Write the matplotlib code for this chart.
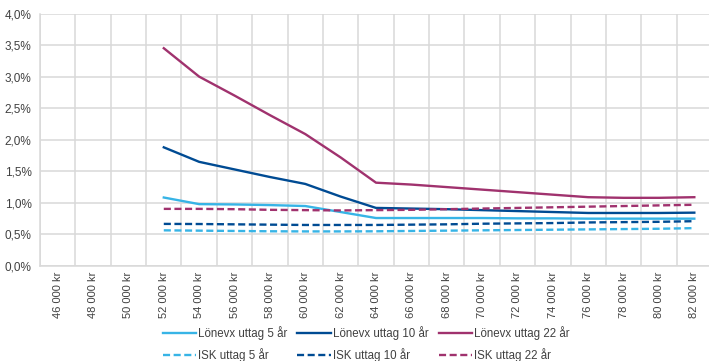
import numpy as np
import matplotlib
matplotlib.use("Agg")
import matplotlib.pyplot as plt
from matplotlib.ticker import FuncFormatter

nan = np.nan

# Monthly salary categories
salaries = list(range(46000, 84000, 2000))
salary_labels = [f"{s // 1000} 000 kr" for s in salaries]

# Fee level in percent per salary level
lonevx_5 = [nan, nan, nan, 1.085, 0.98, 0.975, 0.965, 0.95, 0.855, 0.76, 0.76, 0.76,
            0.76, 0.755, 0.755, 0.75, 0.75, 0.75, 0.75]
lonevx_10 = [nan, nan, nan, 1.88, 1.65, 1.53, 1.41, 1.30, 1.10, 0.92, 0.91, 0.90,
             0.885, 0.87, 0.855, 0.84, 0.84, 0.84, 0.845]
lonevx_22 = [nan, nan, nan, 3.45, 3.00, 2.70, 2.39, 2.09, 1.72, 1.32, 1.29, 1.25,
             1.21, 1.17, 1.13, 1.09, 1.08, 1.08, 1.09]
isk_5 = [nan, nan, nan, 0.565, 0.56, 0.555, 0.55, 0.548, 0.548, 0.55, 0.555, 0.56,
         0.565, 0.57, 0.575, 0.58, 0.585, 0.59, 0.60]
isk_10 = [nan, nan, nan, 0.667, 0.665, 0.66, 0.655, 0.65, 0.65, 0.65, 0.655, 0.66,
          0.67, 0.675, 0.68, 0.69, 0.695, 0.70, 0.71]
isk_22 = [nan, nan, nan, 0.905, 0.905, 0.90, 0.89, 0.885, 0.88, 0.885, 0.89, 0.90,
          0.91, 0.92, 0.93, 0.94, 0.95, 0.96, 0.97]

light = "#37b4e6"
dark = "#004b93"
purple = "#a0326e"
grid_col = "#d9d9d9"
text_col = "#404040"

plt.rcParams["font.family"] = ["Liberation Sans", "DejaVu Sans"]
plt.rcParams["font.size"] = 8

fig = plt.figure(figsize=(7.09, 3.61), dpi=100)
W, H = 709, 361
left, right, top, bottom = 40, 712, 13.5, 266
ax = fig.add_axes([left / W, 1 - bottom / H, (right - left) / W, (bottom - top) / H])

x = np.arange(len(salaries))
lw = 1.7
dash = (0, (3, 1.5))
series = [
    (lonevx_5, light, "-", "Lönevx uttag 5 år"),
    (isk_5, light, dash, "ISK uttag 5 år"),
    (lonevx_10, dark, "-", "Lönevx uttag 10 år"),
    (isk_10, dark, dash, "ISK uttag 10 år"),
    (lonevx_22, purple, "-", "Lönevx uttag 22 år"),
    (isk_22, purple, dash, "ISK uttag 22 år"),
]
for vals, col, ls, lab in series:
    ax.plot(x, vals, color=col, linestyle=ls, lw=lw, label=lab, zorder=3)

ax.set_xlim(-0.5, len(salaries) - 0.5)
ax.set_ylim(0, 4.0)
ax.set_yticks(np.arange(0, 4.01, 0.5))
ax.yaxis.set_major_formatter(FuncFormatter(lambda v, p: f"{v:.1f}%".replace(".", ",")))

ax.set_xticks(x)
ax.set_xticklabels(salary_labels, rotation=90, va="top")
ax.set_xticks(np.arange(len(salaries) + 1) - 0.5, minor=True)

ax.grid(axis="y", which="major", color=grid_col, lw=1.1)
ax.grid(axis="x", which="minor", color=grid_col, lw=1.1)
ax.set_axisbelow(True)

ax.tick_params(axis="both", which="both", length=0, colors=text_col, labelsize=8)
ax.tick_params(axis="y", labelsize=8.5, pad=6)
ax.tick_params(axis="x", pad=4)

for side in ["top", "right"]:
    ax.spines[side].set_visible(False)
for side in ["left", "bottom"]:
    ax.spines[side].set_color(grid_col)
    ax.spines[side].set_linewidth(1.1)

leg = fig.legend(loc="center", bbox_to_anchor=(366 / W, 1 - 344 / H), ncol=3,
                 frameon=False, handlelength=2.9, handletextpad=0.15,
                 columnspacing=0.9, labelspacing=0.65, fontsize=8.3,
                 borderpad=0.2)
for t in leg.get_texts():
    t.set_color(text_col)

fig.savefig("out.png", dpi=100)
